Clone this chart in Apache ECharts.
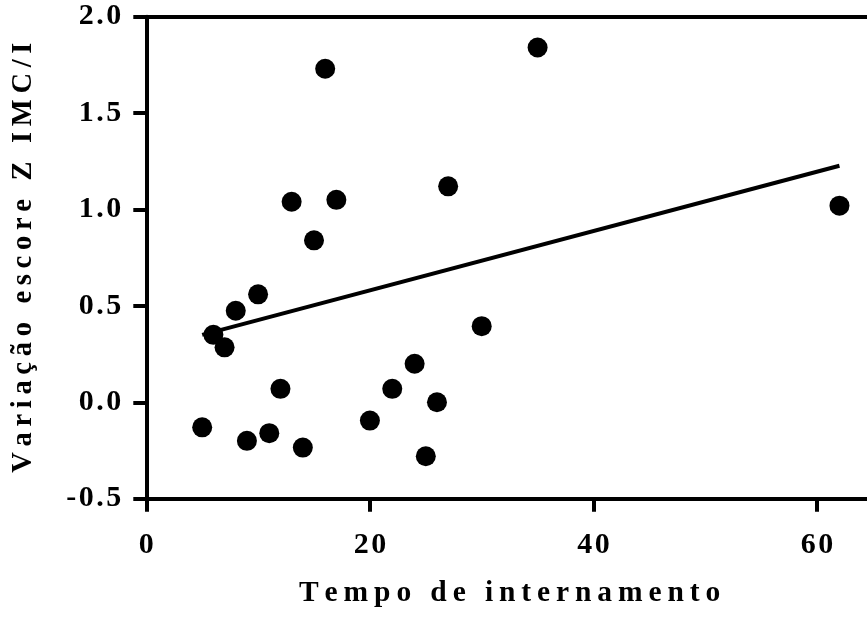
<!DOCTYPE html>
<html>
<head>
<meta charset="utf-8">
<script src="https://cdn.jsdelivr.net/npm/echarts@6/dist/echarts.min.js"></script>
<style>
html,body{margin:0;padding:0;background:#fff;}
#chart{width:867px;height:621px;}
</style>
</head>
<body>
<div id="chart"></div>
<script>
// Data
const tempo = [5, 6, 7, 8, 9, 10, 11, 12, 13, 14, 15, 16, 17, 20, 22, 24, 25, 26, 27, 30, 35, 62];
const variacao = [-0.13, 0.35, 0.285, 0.475, -0.20, 0.56, -0.16, 0.07, 1.04, -0.235, 0.84, 1.73, 1.05, -0.095, 0.07, 0.20, -0.28, 0.0, 1.12, 0.395, 1.84, 1.02];
const fitX = [5, 62];
const fitY = [0.35, 1.227];
const xTicks = [0, 20, 40, 60];
const yTicks = [-0.5, 0.0, 0.5, 1.0, 1.5, 2.0];
const xTitle = 'Tempo de internamento';
const yTitle = 'Variação escore Z IMC/I';

function sp(s, sep) {
  return s.split('').join(sep || '\u2009');
}

const FONT = '"Liberation Serif", "Times New Roman", serif';
const points = tempo.map((t, i) => [t, variacao[i]]);
const fit = fitX.map((x, i) => [x, fitY[i]]);

const chart = echarts.init(document.getElementById('chart'), null, {renderer: 'canvas'});
chart.setOption({
  animation: false,
  backgroundColor: '#ffffff',
  grid: {left: 146.3, top: 16.7, right: -6, bottom: 122.3, containLabel: false, outerBoundsMode: 'none'},
  xAxis: [{
    type: 'value',
    min: 0, max: 65, interval: 20,
    position: 'bottom',
    axisLine: {onZero: false, lineStyle: {color: '#000', width: 4}},
    axisTick: {show: true, inside: false, length: 13, lineStyle: {color: '#000', width: 4}},
    splitLine: {show: false},
    axisLabel: {
      showMaxLabel: false,
      margin: 32,
      color: '#000', fontFamily: FONT, fontWeight: 'bold', fontSize: 30,
      formatter: v => xTicks.indexOf(v) >= 0 ? sp(String(v), '\u200A') : ''
    },
    name: sp(xTitle),
    nameLocation: 'middle',
    nameGap: 80,
    nameTextStyle: {color: '#000', fontFamily: FONT, fontWeight: 'bold', fontSize: 29.5}
  }, {
    type: 'value',
    min: 0, max: 65,
    position: 'top',
    axisLine: {show: true, onZero: false, lineStyle: {color: '#000', width: 4}},
    axisTick: {show: false},
    axisLabel: {show: false},
    splitLine: {show: false}
  }],
  yAxis: {
    type: 'value',
    min: -0.5, max: 2.0, interval: 0.5,
    axisLine: {show: true, onZero: false, lineStyle: {color: '#000', width: 4}},
    axisTick: {show: true, inside: false, length: 13, lineStyle: {color: '#000', width: 4}},
    splitLine: {show: false},
    axisLabel: {
      margin: 25,
      color: '#000', fontFamily: FONT, fontWeight: 'bold', fontSize: 30,
      formatter: v => sp(v.toFixed(1), '\u200A')
    },
    name: sp(yTitle),
    nameLocation: 'middle',
    nameRotate: 90,
    nameGap: 108,
    nameTextStyle: {color: '#000', fontFamily: FONT, fontWeight: 'bold', fontSize: 28.5}
  },
  series: [{
    type: 'scatter',
    data: points,
    symbol: 'circle',
    symbolSize: 20,
    itemStyle: {color: '#000', opacity: 1},
    z: 3
  }, {
    type: 'line',
    data: fit,
    showSymbol: false,
    symbol: 'none',
    lineStyle: {color: '#000', width: 4},
    z: 4
  }]
});
</script>
</body>
</html>
